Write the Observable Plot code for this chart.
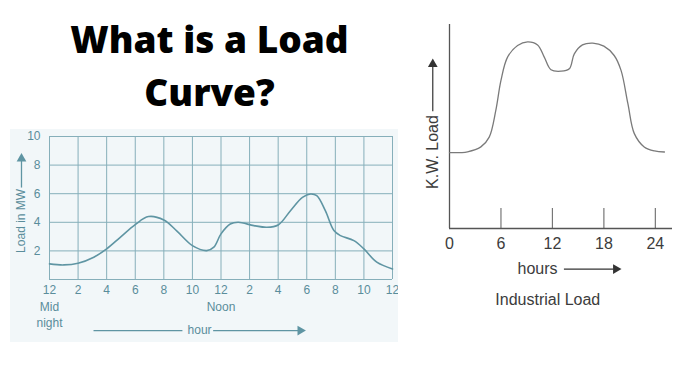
<!DOCTYPE html>
<html><head><meta charset="utf-8">
<script src="https://cdn.jsdelivr.net/npm/d3@7"></script>
<script src="https://cdn.jsdelivr.net/npm/@observablehq/plot@0.6"></script>
<style>
html,body{margin:0;padding:0;background:#fff;}
#root{position:relative;width:700px;height:375px;overflow:hidden;background:#fff;}
#title{position:absolute;left:0;top:12px;width:419px;text-align:center;font-family:"Open Sans",sans-serif;font-weight:800;font-size:37px;line-height:53px;color:#000;}
#left{position:absolute;left:10px;top:129px;}
#right{position:absolute;left:400px;top:0px;}
</style></head><body>
<div id="root"><div id="title">What is a Load<br>Curve?</div><div id="left"></div><div id="right"></div></div>
<script>
// ---- Left chart: daily load curve (MW) ----
const dailyHours = [0, 1, 2, 3.1, 4, 4.95, 6, 6.93, 8, 8.9, 10, 11, 11.5, 12, 12.65, 13.2, 14.3, 15.2, 16, 16.86, 17.7, 18.26, 18.7, 19.3, 19.9, 20.36, 21.3, 22, 22.9, 24];
const dailyLoad  = [1.09, 1.02, 1.14, 1.56, 2.14, 2.95, 3.84, 4.4, 4.16, 3.4, 2.37, 2.02, 2.26, 3.19, 3.88, 4.0, 3.77, 3.65, 3.81, 4.81, 5.74, 5.98, 5.86, 4.81, 3.42, 3.07, 2.72, 2.14, 1.21, 0.74];
const dailyTicks = [0, 2, 4, 6, 8, 10, 12, 14, 16, 18, 20, 22, 24];
const dailyTickLabels = ["12", "2", "4", "6", "8", "10", "12", "2", "4", "6", "8", "10", "12"];
const loadTicks = [2, 4, 6, 8, 10];
const loadGrid = [0, 2, 4, 6, 8, 10];
const dailyNotes = [{x: 0, text: "Mid\nnight"}, {x: 12, text: "Noon"}];

// ---- Right chart: industrial load (relative kW) ----
const industrialHours = [0, 2.1, 3.66, 4.63, 5.4, 6, 6.77, 7.94, 9.1, 10.27, 11.05, 11.83, 13, 13.97, 14.55, 15.5, 16.7, 18, 19.2, 20, 20.8, 21.55, 22.7, 23.9, 25.06];
const industrialLoad  = [37.2, 37.6, 40, 44.8, 57.9, 72.6, 84, 89.7, 91.5, 90, 84, 77.8, 77.1, 78.3, 85.6, 90, 90.9, 89.4, 84.8, 77.5, 61.2, 46.5, 40, 38, 37.5];
const industrialTicks = [0, 6, 12, 18, 24];

const daily = dailyHours.map((h, i) => ({hour: h, load: dailyLoad[i]}));
const industrial = industrialHours.map((h, i) => ({hour: h, load: industrialLoad[i]}));
const tickLabelMap = new Map(dailyTicks.map((t, i) => [t, dailyTickLabels[i]]));

const teal = "#5f95a3";
const gridC = "#86afba";
const tealText = "#5a8d9b";

const left = Plot.plot({
  width: 388, height: 213,
  marginLeft: 39, marginRight: 6, marginTop: 7, marginBottom: 63,
  style: {background: "#f2f7f9", fontFamily: "'Liberation Sans', Arial, sans-serif", fontSize: "12px", color: tealText},
  x: {domain: [0, 24]},
  y: {domain: [0, 10]},
  marks: [
    Plot.ruleX(dailyTicks, {stroke: gridC, strokeWidth: 1}),
    Plot.ruleY(loadGrid, {stroke: gridC, strokeWidth: 1}),
    Plot.axisX(dailyTicks, {tickSize: 0, tickPadding: 6, tickFormat: d => tickLabelMap.get(d), fill: tealText, label: null}),
    Plot.axisY(loadTicks, {tickSize: 0, tickPadding: 9, fill: tealText, label: null}),
    Plot.line(daily, {x: "hour", y: "load", curve: "catmull-rom", stroke: teal, strokeWidth: 1.6}),
    Plot.text(dailyNotes, {x: "x", text: "text", frameAnchor: "bottom", lineAnchor: "top", dy: 21, lineHeight: 1.28, fill: tealText}),
    // y-axis title with arrow
    Plot.text(["Load in MW"], {x: -1.96, y: 4.1, text: d => d, rotate: -90, fill: tealText}),
    Plot.link([0], {x1: -1.96, x2: -1.96, y1: 6.43, y2: 8.3, stroke: teal, strokeWidth: 1.3}),
    Plot.dot([0], {x: -1.96, y: 8.45, symbol: "triangle", r: 3.6, fill: teal, stroke: "none"}),
    // x-axis title with arrow
    Plot.link([0], {x1: 3.08, x2: 9.3, y1: -3.57, y2: -3.57, stroke: teal, strokeWidth: 1.3}),
    Plot.text(["hour"], {x: 10.5, y: -3.57, text: d => d, fill: tealText}),
    Plot.link([0], {x1: 11.45, x2: 17.4, y1: -3.57, y2: -3.57, stroke: teal, strokeWidth: 1.3}),
    Plot.dot([0], {x: 17.55, y: -3.57, symbol: "triangle", rotate: 90, r: 3.6, fill: teal, stroke: "none"})
  ]
});
document.getElementById("left").appendChild(left);

const axisC = "#555";
const textC = "#3c3c3c";
const right = Plot.plot({
  width: 300, height: 320,
  marginLeft: 49, marginRight: 28, marginTop: 24, marginBottom: 92,
  style: {background: "transparent", fontFamily: "'Liberation Sans', Arial, sans-serif", fontSize: "16px", color: textC},
  x: {domain: [0, 26]},
  y: {domain: [0, 100], axis: null},
  marks: [
    Plot.ruleX(industrialTicks.slice(1), {stroke: "#777", strokeWidth: 1.2, insetTop: 184}),
    Plot.ruleY([0], {stroke: axisC, strokeWidth: 1.3}),
    Plot.ruleX([0], {stroke: axisC, strokeWidth: 1.3}),
    Plot.axisX(industrialTicks, {tickSize: 0, tickPadding: 9, fill: textC, label: null}),
    Plot.line(industrial, {x: "hour", y: "load", curve: "catmull-rom", stroke: "#7a7a7a", strokeWidth: 1.3}),
    Plot.text(["K.W. Load"], {x: -1.95, y: 37.5, text: d => d, rotate: -90, fill: textC}),
    Plot.link([0], {x1: -1.95, x2: -1.95, y1: 57.5, y2: 79.5, stroke: "#333", strokeWidth: 1.2}),
    Plot.dot([0], {x: -1.95, y: 80.6, symbol: "triangle", r: 3.6, fill: "#333", stroke: "none"}),
    Plot.text(["hours"], {x: 7.93, y: -19.9, text: d => d, textAnchor: "start", fill: textC}),
    Plot.link([0], {x1: 13.34, x2: 19.1, y1: -19.9, y2: -19.9, stroke: "#333", strokeWidth: 1.2}),
    Plot.dot([0], {x: 19.4, y: -19.9, symbol: "triangle", rotate: 90, r: 3.6, fill: "#333", stroke: "none"}),
    Plot.text(["Industrial Load"], {x: 11.46, y: -35, text: d => d, fill: textC})
  ]
});
document.getElementById("right").appendChild(right);
</script>
</body></html>
